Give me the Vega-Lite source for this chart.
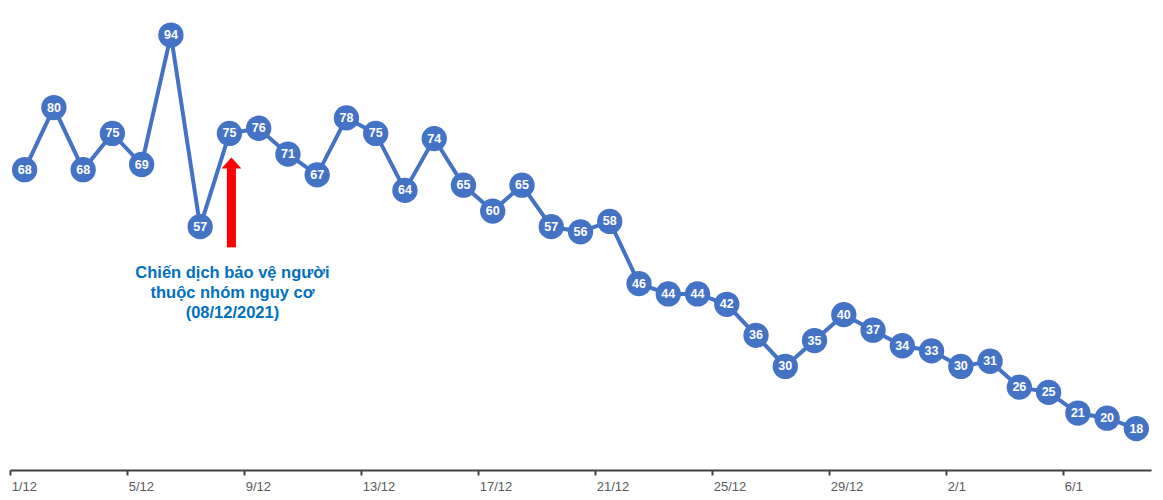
{
  "$schema": "https://vega.github.io/schema/vega-lite/v6.json",
  "autosize": "none",
  "width": 1141,
  "height": 466,
  "padding": {"left": 10, "top": 4, "right": 12, "bottom": 30},
  "background": "white",
  "config": {"view": {"stroke": null}},
  "datasets": {
    "main": [
      {"date": "1/12", "value": 68}, {"date": "2/12", "value": 80}, {"date": "3/12", "value": 68},
      {"date": "4/12", "value": 75}, {"date": "5/12", "value": 69}, {"date": "6/12", "value": 94},
      {"date": "7/12", "value": 57}, {"date": "8/12", "value": 75}, {"date": "9/12", "value": 76},
      {"date": "10/12", "value": 71}, {"date": "11/12", "value": 67}, {"date": "12/12", "value": 78},
      {"date": "13/12", "value": 75}, {"date": "14/12", "value": 64}, {"date": "15/12", "value": 74},
      {"date": "16/12", "value": 65}, {"date": "17/12", "value": 60}, {"date": "18/12", "value": 65},
      {"date": "19/12", "value": 57}, {"date": "20/12", "value": 56}, {"date": "21/12", "value": 58},
      {"date": "22/12", "value": 46}, {"date": "23/12", "value": 44}, {"date": "24/12", "value": 44},
      {"date": "25/12", "value": 42}, {"date": "26/12", "value": 36}, {"date": "27/12", "value": 30},
      {"date": "28/12", "value": 35}, {"date": "29/12", "value": 40}, {"date": "30/12", "value": 37},
      {"date": "31/12", "value": 34}, {"date": "1/1", "value": 33}, {"date": "2/1", "value": 30},
      {"date": "3/1", "value": 31}, {"date": "4/1", "value": 26}, {"date": "5/1", "value": 25},
      {"date": "6/1", "value": 21}, {"date": "7/1", "value": 20}, {"date": "8/1", "value": 18}
    ],
    "arrow": [{"date": "8/12", "low": 53, "high": 68.3, "head": 69.3}],
    "note": [{"date": "8/12", "y": 48.0, "label": "Chiến dịch bảo vệ người|thuộc nhóm nguy cơ|(08/12/2021)"}]
  },
  "encoding": {
    "x": {
      "field": "date",
      "type": "ordinal",
      "sort": null,
      "scale": {
        "type": "band",
        "paddingInner": 0,
        "paddingOuter": 0,
        "domain": ["1/12","2/12","3/12","4/12","5/12","6/12","7/12","8/12","9/12","10/12","11/12","12/12","13/12","14/12","15/12","16/12","17/12","18/12","19/12","20/12","21/12","22/12","23/12","24/12","25/12","26/12","27/12","28/12","29/12","30/12","31/12","1/1","2/1","3/1","4/1","5/1","6/1","7/1","8/1"]
      },
      "axis": {
        "title": null,
        "values": ["1/12","5/12","9/12","13/12","17/12","21/12","25/12","29/12","2/1","6/1"],
        "bandPosition": 0,
        "labelAlign": "left",
        "labelAngle": 0,
        "labelOffset": -13,
        "labelPadding": 5,
        "labelFont": "Liberation Sans",
        "labelFontSize": 13,
        "labelColor": "#595959",
        "domainColor": "#404040",
        "domainWidth": 2,
        "tickColor": "#404040",
        "tickWidth": 2,
        "tickSize": 5,
        "grid": false
      }
    }
  },
  "layer": [
    {
      "data": {"name": "main"},
      "mark": {"type": "line", "color": "#4472C4", "strokeWidth": 4},
      "encoding": {
        "y": {"field": "value", "type": "quantitative", "scale": {"domain": [10, 100], "nice": false, "zero": false}, "axis": null}
      }
    },
    {
      "data": {"name": "main"},
      "mark": {"type": "point", "shape": "circle", "filled": true, "color": "#4472C4", "opacity": 1, "size": 640},
      "encoding": {
        "y": {"field": "value", "type": "quantitative"}
      }
    },
    {
      "data": {"name": "main"},
      "mark": {"type": "text", "color": "white", "font": "Liberation Sans", "fontWeight": "bold", "fontSize": 12.5, "baseline": "middle", "align": "center"},
      "encoding": {
        "y": {"field": "value", "type": "quantitative"},
        "text": {"field": "value", "type": "quantitative"}
      }
    },
    {
      "data": {"name": "arrow"},
      "mark": {"type": "rule", "color": "#FF0000", "strokeWidth": 9, "strokeCap": "butt", "xOffset": 2},
      "encoding": {
        "y": {"field": "low", "type": "quantitative"},
        "y2": {"field": "high"}
      }
    },
    {
      "data": {"name": "arrow"},
      "mark": {"type": "point", "shape": "M0,-0.55L1,0.55L-1,0.55Z", "filled": true, "color": "#FF0000", "opacity": 1, "size": 400, "xOffset": 2},
      "encoding": {
        "y": {"field": "head", "type": "quantitative"}
      }
    },
    {
      "data": {"name": "note"},
      "mark": {"type": "text", "color": "#0070C0", "font": "Liberation Sans", "fontWeight": "bold", "fontSize": 16.5, "lineBreak": "|", "lineHeight": 20, "align": "center", "baseline": "middle", "dx": 3},
      "encoding": {
        "y": {"field": "y", "type": "quantitative"},
        "text": {"field": "label", "type": "nominal"}
      }
    }
  ]
}
